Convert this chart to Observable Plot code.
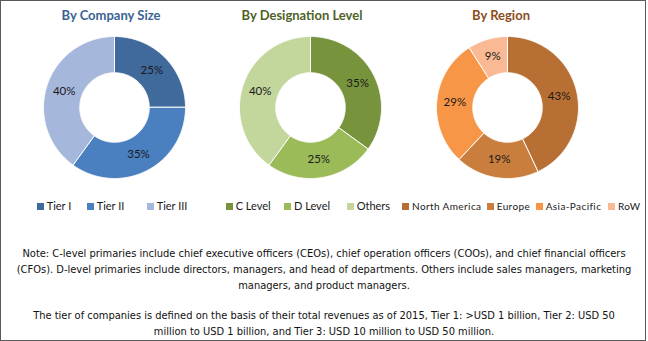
<!DOCTYPE html>
<html>
<head>
<meta charset="utf-8">
<script src="https://cdn.jsdelivr.net/npm/d3@7"></script>
<script src="https://cdn.jsdelivr.net/npm/@observablehq/plot@0.6"></script>
<style>
  html, body { margin: 0; padding: 0; background: #fff; }
  #frame { position: relative; width: 644px; height: 339px; border: 1px solid #5a5a5a; overflow: hidden; font-family: Lato, "Open Sans", sans-serif; }
  .title { position: absolute; top: 6px; font-weight: bold; font-size: 13px; text-align: center; width: 200px; }
  .donut { position: absolute; top: 30.5px; }
  .leg { position: absolute; top: 197px; font-size: 11px; color: #1a1a1a; white-space: nowrap; line-height: 16px; }
  .leg .sw { display: inline-block; width: 7px; height: 7px; margin-right: 3px; vertical-align: 0px; }
  #notes { position: absolute; left: 0; top: 245px; width: 646px; text-align: center; font-family: "Liberation Sans Narrow", "DejaVu Sans Condensed", sans-serif; font-size: 11px; line-height: 16px; color: #111; }
  #notes .ln { display: block; white-space: nowrap; }
  #notes .gap { height: 14px; }
</style>
</head>
<body>
<div id="frame"></div>
<script>
// ---- data ----
const sizeTitle = "By Company Size";
const sizeLabels = ["Tier I", "Tier II", "Tier III"];
const sizeValues = [25, 35, 40];
const sizeColors = ["#40699c", "#4a7fc0", "#a6b7dc"];

const desigTitle = "By Designation Level";
const desigLabels = ["C Level", "D Level", "Others"];
const desigValues = [35, 25, 40];
const desigColors = ["#77933c", "#9bbb59", "#c3d69b"];

const regionTitle = "By Region";
const regionLabels = ["North America", "Europe", "Asia-Pacific", "RoW"];
const regionValues = [43, 19, 29, 9];
const regionColors = ["#b86f33", "#c97e3e", "#f79646", "#f9b994"];

const noteLines = [
  "Note: C-level primaries include chief executive officers (CEOs), chief operation officers (COOs), and chief financial officers",
  "(CFOs). D-level primaries include directors, managers, and head of departments. Others include sales managers, marketing",
  "managers, and product managers."
];
const tierLines = [
  "The tier of companies is defined on the basis of their total revenues as of 2015, Tier 1: >USD 1 billion, Tier 2: USD 50",
  "million to USD 1 billion, and Tier 3: USD 10 million to USD 50 million."
];

// ---- layout ----
const frame = document.getElementById("frame");
const INNER = 0.49;

function donut(labels, values, colors) {
  const rows = labels.map((k, i) => ({key: k, value: values[i]}));
  const arcs = d3.pie().sort(null).value(d => d.value)(rows);
  const pts = [];
  const lab = [];
  for (const a of arcs) {
    const n = Math.max(2, Math.ceil((a.endAngle - a.startAngle) / 0.01));
    for (let i = 0; i <= n; i++) {
      const t = a.startAngle + (a.endAngle - a.startAngle) * i / n;
      pts.push({key: a.data.key, x: Math.sin(t), y: Math.cos(t)});
    }
    for (let i = n; i >= 0; i--) {
      const t = a.startAngle + (a.endAngle - a.startAngle) * i / n;
      pts.push({key: a.data.key, x: INNER * Math.sin(t), y: INNER * Math.cos(t)});
    }
    const m = (a.startAngle + a.endAngle) / 2, r = (1 + INNER) / 2;
    lab.push({x: r * Math.sin(m), y: r * Math.cos(m), text: a.data.value + "%"});
  }
  return Plot.plot({
    width: 150, height: 150, margin: 4,
    style: {background: "transparent", fontFamily: "Lato, 'Open Sans', sans-serif"},
    x: {domain: [-1, 1], axis: null},
    y: {domain: [-1, 1], axis: null},
    color: {type: "ordinal", domain: labels, range: colors},
    marks: [
      Plot.line(pts, {x: "x", y: "y", z: "key", fill: "key", stroke: "white", strokeWidth: 1, curve: "linear-closed"}),
      Plot.text(lab, {x: "x", y: "y", text: "text", fill: "#1a1a1a", fontSize: 11.5})
    ]
  });
}

function addTitle(text, cx, color) {
  const d = document.createElement("div");
  d.className = "title";
  d.textContent = text;
  d.style.left = (cx - 100) + "px";
  d.style.color = color;
  frame.appendChild(d);
}
function addDonut(node, left) {
  const d = document.createElement("div");
  d.className = "donut";
  d.style.left = left + "px";
  d.appendChild(node);
  frame.appendChild(d);
}
function addLegend(labels, colors, lefts, size, spacing) {
  labels.forEach((k, i) => {
    const d = document.createElement("div");
    d.className = "leg";
    d.style.left = lefts[i] + "px";
    if (size) d.style.fontSize = size;
    if (spacing) d.style.letterSpacing = spacing;
    const s = document.createElement("span");
    s.className = "sw";
    s.style.background = colors[i];
    d.appendChild(s);
    d.appendChild(document.createTextNode(k));
    frame.appendChild(d);
  });
}

addTitle(sizeTitle, 110, "#3a6494");
addTitle(desigTitle, 301, "#4f6228");
addTitle(regionTitle, 500, "#8c4e1c");

addDonut(donut(sizeLabels, sizeValues, sizeColors), 38);
addDonut(donut(desigLabels, desigValues, desigColors), 233.5);
addDonut(donut(regionLabels, regionValues, regionColors), 430.5);

addLegend(sizeLabels, sizeColors, [35.7, 85.7, 145.7]);
addLegend(desigLabels, desigColors, [224.7, 283, 345.7]);
addLegend(regionLabels, regionColors, [401, 485.7, 534.7, 607], "10px", "0.4px");

const notes = document.createElement("div");
notes.id = "notes";
for (const l of noteLines) { const s = document.createElement("span"); s.className = "ln"; s.textContent = l; notes.appendChild(s); }
const g = document.createElement("span"); g.className = "ln gap"; notes.appendChild(g);
for (const l of tierLines) { const s = document.createElement("span"); s.className = "ln"; s.textContent = l; notes.appendChild(s); }
frame.appendChild(notes);
</script>
</body>
</html>
